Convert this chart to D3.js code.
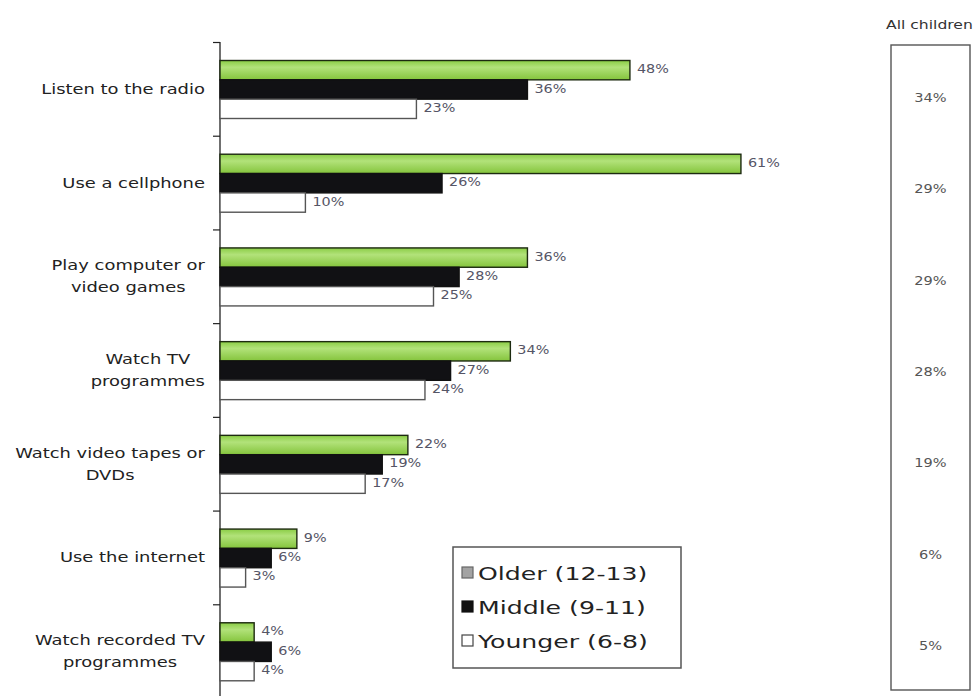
<!DOCTYPE html>
<html>
<head>
<meta charset="utf-8">
<script src="https://cdn.jsdelivr.net/npm/d3@7"></script>
<style>
  html, body { margin: 0; padding: 0; background: #fff; }
  svg { display: block; }
  text { font-family: "DejaVu Sans", Verdana, sans-serif; }
</style>
</head>
<body>
<svg id="chart" width="973" height="696"></svg>
<script>
// Activities, in display order (top to bottom)
const categories = [
  ["Listen to the radio"],
  ["Use a cellphone"],
  ["Play computer or", "video games"],
  ["Watch TV", "programmes"],
  ["Watch video tapes or", "DVDs"],
  ["Use the internet"],
  ["Watch recorded TV", "programmes"]
];
const seriesNames = ["Older (12-13)", "Middle (9-11)", "Younger (6-8)"];
const older   = [48, 61, 36, 34, 22, 9, 4];
const middle  = [36, 26, 28, 27, 19, 6, 6];
const younger = [23, 10, 25, 24, 17, 3, 4];
const allChildren = [34, 29, 29, 28, 19, 6, 5];
const allChildrenTitle = "All children";

const series = [older, middle, younger];
const svg = d3.select("#chart");

// Wide-set text: a label drawn inside a group stretched horizontally
function wideText(parent, px, py, sx, str, opts) {
  const g = parent.append("g").attr("transform", `translate(${px},${py}) scale(${sx},1)`);
  const t = g.append("text")
    .attr("x", 0).attr("y", 0)
    .attr("font-size", opts.size)
    .attr("fill", opts.fill)
    .attr("text-anchor", opts.anchor || "start")
    .text(str);
  return t;
}

const defs = svg.append("defs");
const grad = defs.append("linearGradient")
  .attr("id", "greenFill").attr("x1", 0).attr("y1", 0).attr("x2", 0).attr("y2", 1);
grad.append("stop").attr("offset", "0%").attr("stop-color", "#8acd45");
grad.append("stop").attr("offset", "35%").attr("stop-color", "#b2e27a");
grad.append("stop").attr("offset", "100%").attr("stop-color", "#84c43c");

const fills = ["url(#greenFill)", "#111114", "#ffffff"];
const strokes = ["#1d2a10", "#111", "#555"];

const catIdx = d3.range(categories.length);
const y0 = d3.scaleBand().domain(catIdx).range([42, 698]).padding(0);
const y1 = d3.scaleBand().domain(d3.range(series.length)).range([18.5, 76.5]).padding(0);
const x = d3.scaleLinear().domain([0, 100]).range([220, 1074]);

// Category axis with ticks at band boundaries
const axisG = svg.append("g");
axisG.append("line")
  .attr("x1", x(0)).attr("x2", x(0))
  .attr("y1", y0.range()[0]).attr("y2", 696)
  .attr("stroke", "#222").attr("stroke-width", 1.3);
axisG.selectAll("line.tick")
  .data(catIdx)
  .join("line").attr("class", "tick")
  .attr("x1", x(0) - 7).attr("x2", x(0))
  .attr("y1", d => y0(d) + 0.5).attr("y2", d => y0(d) + 0.5)
  .attr("stroke", "#222").attr("stroke-width", 1.2);

// Category labels: multi-line labels are centred on each other, right-aligned as a block
const labelRight = 205;
const labelSX = 1.28;
const labelG = svg.append("g");
categories.forEach((lines, i) => {
  const cy = y0(i) + y0.bandwidth() / 2;
  const lineH = 22;
  const probe = lines.map(ln => {
    const t = labelG.append("text").attr("font-size", 14).text(ln);
    const w = t.node().getComputedTextLength();
    t.remove();
    return w;
  });
  const maxW = d3.max(probe) * labelSX;
  lines.forEach((ln, j) => {
    wideText(labelG, labelRight - maxW / 2, cy + (j - (lines.length - 1) / 2) * lineH + 5,
      labelSX, ln, { size: 14, fill: "#222", anchor: "middle" });
  });
});

// Bars
const barsG = svg.append("g");
series.forEach((vals, s) => {
  barsG.selectAll(null)
    .data(vals)
    .join("rect")
    .attr("x", x(0))
    .attr("y", (d, i) => y0(i) + y1(s))
    .attr("width", d => x(d) - x(0))
    .attr("height", y1.bandwidth())
    .attr("fill", fills[s])
    .attr("stroke", strokes[s])
    .attr("stroke-width", 1.4);
  vals.forEach((d, i) => {
    wideText(barsG, x(d) + 7, y0(i) + y1(s) + y1.bandwidth() / 2 + 3, 1.15,
      d + "%", { size: 12.5, fill: "#556" });
  });
});

// Legend
const legend = svg.append("g").attr("transform", "translate(453,547)");
legend.append("rect")
  .attr("width", 228).attr("height", 121)
  .attr("fill", "#fff").attr("stroke", "#555").attr("stroke-width", 1.5);
const swatchFill = ["#a3a3a3", "#111", "#fff"];
const swatchStroke = ["#666", "#111", "#444"];
seriesNames.forEach((name, s) => {
  const cy = 26 + s * 34;
  legend.append("rect")
    .attr("x", 9).attr("y", cy - 6).attr("width", 11).attr("height", 11)
    .attr("fill", swatchFill[s]).attr("stroke", swatchStroke[s]).attr("stroke-width", 1.2);
  wideText(legend, 25, cy + 7, 1.36, name, { size: 18.5, fill: "#222" });
});

// All-children column
const yAll = d3.scalePoint().domain(catIdx).range([97, 645]);
wideText(svg, 886, 29, 1.3, allChildrenTitle, { size: 12, fill: "#333" });
svg.append("rect")
  .attr("x", 891).attr("y", 45).attr("width", 79).attr("height", 645)
  .attr("fill", "none").attr("stroke", "#555").attr("stroke-width", 1.4);
const allG = svg.append("g");
allChildren.forEach((d, i) => {
  wideText(allG, 930.5, yAll(i) + 5, 1.12, d + "%", { size: 13, fill: "#555", anchor: "middle" });
});
</script>
</body>
</html>
